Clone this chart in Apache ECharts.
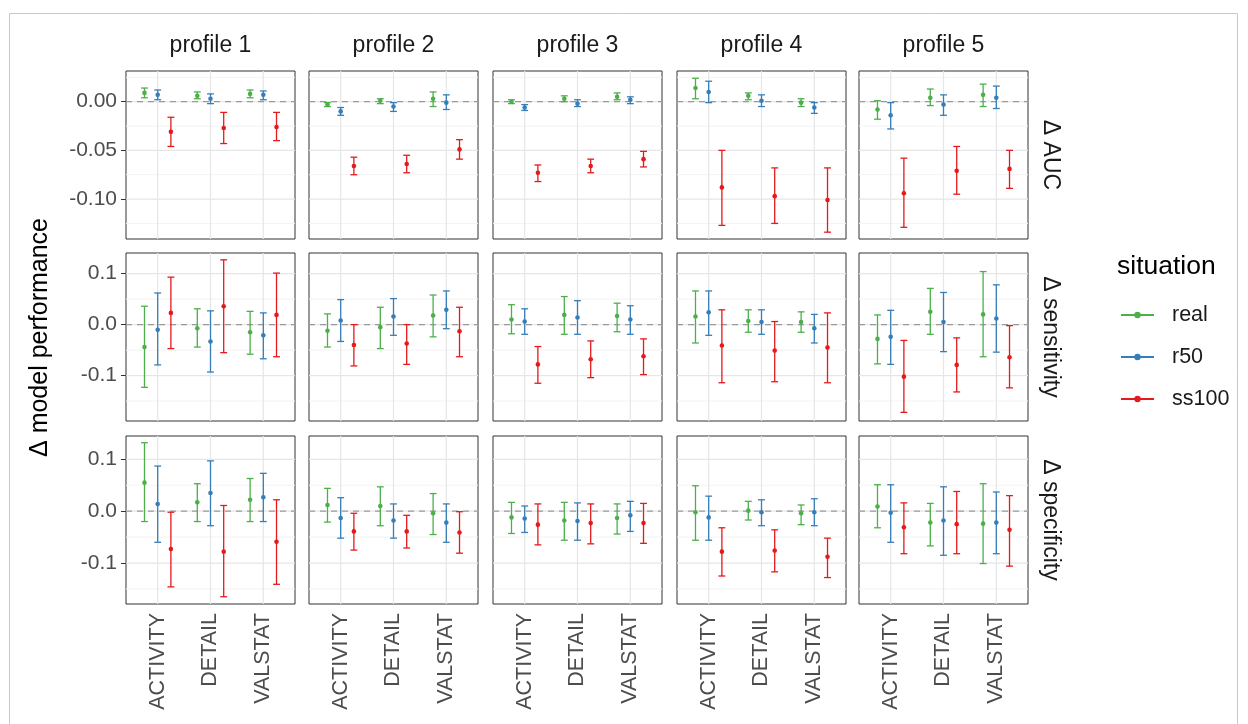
<!DOCTYPE html>
<html><head><meta charset="utf-8">
<script src="https://cdn.jsdelivr.net/npm/echarts@6/dist/echarts.min.js"></script>
<style>html,body{margin:0;padding:0;background:#fff}#c{width:1248px;height:724px}</style>
</head><body><div id="c"></div><script>
// ---------------- data ----------------
const categories = ['ACTIVITY', 'DETAIL', 'VALSTAT'];
const profiles = ['profile 1', 'profile 2', 'profile 3', 'profile 4', 'profile 5'];
const metrics = ['Δ AUC', 'Δ sensitivity', 'Δ specificity'];
const situations = ['real', 'r50', 'ss100'];

// each: profile 1..5 -> [ACTIVITY, DETAIL, VALSTAT] -> [mean, lower, upper]
const aucReal = [
  [[0.009, 0.004, 0.014], [0.006, 0.003, 0.010], [0.008, 0.004, 0.012]],
  [[-0.003, -0.005, -0.001], [0.001, -0.002, 0.003], [0.003, -0.005, 0.010]],
  [[0.000, -0.002, 0.002], [0.003, 0.000, 0.006], [0.005, 0.002, 0.009]],
  [[0.014, 0.003, 0.024], [0.006, 0.002, 0.009], [-0.001, -0.005, 0.003]],
  [[-0.008, -0.018, 0.001], [0.004, -0.004, 0.013], [0.007, -0.005, 0.018]]
];
const aucR50 = [
  [[0.007, 0.002, 0.012], [0.003, -0.002, 0.008], [0.007, 0.002, 0.011]],
  [[-0.010, -0.014, -0.006], [-0.005, -0.010, -0.001], [-0.001, -0.008, 0.007]],
  [[-0.006, -0.009, -0.003], [-0.002, -0.005, 0.002], [0.002, -0.002, 0.005]],
  [[0.010, -0.001, 0.021], [0.001, -0.005, 0.007], [-0.006, -0.012, -0.001]],
  [[-0.014, -0.028, -0.001], [-0.003, -0.014, 0.007], [0.004, -0.007, 0.016]]
];
const aucSs100 = [
  [[-0.031, -0.046, -0.016], [-0.027, -0.043, -0.011], [-0.026, -0.040, -0.011]],
  [[-0.066, -0.075, -0.057], [-0.064, -0.073, -0.055], [-0.049, -0.059, -0.039]],
  [[-0.073, -0.082, -0.065], [-0.066, -0.073, -0.059], [-0.059, -0.067, -0.051]],
  [[-0.088, -0.127, -0.050], [-0.097, -0.125, -0.068], [-0.101, -0.134, -0.068]],
  [[-0.094, -0.129, -0.058], [-0.071, -0.095, -0.046], [-0.069, -0.089, -0.050]]
];
const sensReal = [
  [[-0.044, -0.123, 0.036], [-0.007, -0.044, 0.031], [-0.015, -0.058, 0.026]],
  [[-0.012, -0.044, 0.021], [-0.005, -0.047, 0.034], [0.018, -0.024, 0.058]],
  [[0.010, -0.018, 0.039], [0.019, -0.019, 0.055], [0.017, -0.014, 0.042]],
  [[0.016, -0.036, 0.066], [0.007, -0.015, 0.029], [0.005, -0.015, 0.025]],
  [[-0.028, -0.077, 0.019], [0.025, -0.019, 0.071], [0.020, -0.063, 0.104]]
];
const sensR50 = [
  [[-0.010, -0.079, 0.062], [-0.033, -0.093, 0.027], [-0.021, -0.067, 0.023]],
  [[0.008, -0.033, 0.049], [0.016, -0.021, 0.051], [0.029, -0.008, 0.066]],
  [[0.006, -0.019, 0.031], [0.014, -0.019, 0.047], [0.010, -0.019, 0.037]],
  [[0.024, -0.021, 0.066], [0.005, -0.019, 0.029], [-0.007, -0.036, 0.020]],
  [[-0.024, -0.078, 0.028], [0.005, -0.053, 0.063], [0.012, -0.054, 0.078]]
];
const sensSs100 = [
  [[0.023, -0.047, 0.093], [0.036, -0.055, 0.127], [0.019, -0.063, 0.101]],
  [[-0.040, -0.081, 0.000], [-0.037, -0.078, 0.000], [-0.013, -0.063, 0.034]],
  [[-0.078, -0.115, -0.043], [-0.068, -0.104, -0.032], [-0.062, -0.098, -0.028]],
  [[-0.041, -0.114, 0.029], [-0.051, -0.112, 0.006], [-0.045, -0.114, 0.023]],
  [[-0.102, -0.172, -0.031], [-0.079, -0.132, -0.026], [-0.064, -0.124, -0.002]]
];
const specReal = [
  [[0.055, -0.020, 0.132], [0.017, -0.020, 0.053], [0.022, -0.020, 0.063]],
  [[0.012, -0.021, 0.044], [0.010, -0.028, 0.047], [-0.004, -0.045, 0.034]],
  [[-0.012, -0.043, 0.017], [-0.018, -0.056, 0.017], [-0.013, -0.044, 0.014]],
  [[-0.002, -0.056, 0.049], [0.001, -0.017, 0.019], [-0.004, -0.026, 0.012]],
  [[0.009, -0.032, 0.051], [-0.022, -0.067, 0.015], [-0.024, -0.101, 0.053]]
];
const specR50 = [
  [[0.014, -0.060, 0.087], [0.035, -0.028, 0.097], [0.027, -0.020, 0.073]],
  [[-0.013, -0.052, 0.026], [-0.018, -0.052, 0.014], [-0.022, -0.060, 0.014]],
  [[-0.014, -0.041, 0.010], [-0.019, -0.056, 0.016], [-0.008, -0.039, 0.019]],
  [[-0.012, -0.056, 0.029], [-0.002, -0.028, 0.022], [-0.002, -0.028, 0.024]],
  [[-0.003, -0.060, 0.051], [-0.018, -0.085, 0.047], [-0.022, -0.082, 0.037]]
];
const specSs100 = [
  [[-0.073, -0.146, -0.002], [-0.078, -0.165, 0.011], [-0.059, -0.141, 0.022]],
  [[-0.039, -0.075, -0.004], [-0.039, -0.071, -0.008], [-0.041, -0.081, -0.001]],
  [[-0.026, -0.065, 0.014], [-0.023, -0.063, 0.014], [-0.023, -0.062, 0.015]],
  [[-0.078, -0.125, -0.032], [-0.076, -0.117, -0.036], [-0.088, -0.128, -0.052]],
  [[-0.031, -0.082, 0.016], [-0.025, -0.082, 0.038], [-0.036, -0.106, 0.030]]
];

// axis limits and ticks per metric row
const yLimits = [[-0.141, 0.0315], [-0.189, 0.1404], [-0.179, 0.145]];
const yTicks = [[-0.10, -0.05, 0.00], [-0.1, 0.0, 0.1], [-0.1, 0.0, 0.1]];
const yMinorTicks = [[-0.125, -0.075, -0.025, 0.025], [-0.15, -0.05, 0.05], [-0.15, -0.05, 0.05]];
const yDecimals = [2, 1, 1];

// ---------------- layout / style ----------------
const metricData = [[aucReal, aucR50, aucSs100], [sensReal, sensR50, sensSs100], [specReal, specR50, specSs100]];
const colors = ['#4DAF4A', '#377EB8', '#E41A1C'];
const dodge = [-0.25, 0, 0.25];
const FONT = 'Liberation Sans, Arial, Helvetica, sans-serif';
const lefts = [126, 309, 493, 677, 859];
const tops = [71, 253, 436];
const W = 169, H = 168;

const grids = [], xAxes = [], yAxes = [], series = [], graphics = [];

// legend helper series (empty lines with point)
situations.forEach((s, k) => {
  series.push({
    type: 'line', name: s, data: [], xAxisIndex: 0, yAxisIndex: 0,
    color: colors[k], symbol: 'circle', symbolSize: 4, showSymbol: true,
    lineStyle: { width: 1.2, color: colors[k] }, itemStyle: { color: colors[k] }
  });
});

for (let r = 0; r < 3; r++) {
  for (let c = 0; c < 5; c++) {
    const gi = r * 5 + c;
    grids.push({ left: lefts[c], top: tops[r], width: W, height: H, show: true,
      borderColor: '#333333', borderWidth: 1, backgroundColor: '#ffffff' });
    xAxes.push({
      gridIndex: gi, type: 'value', min: 0.4, max: 3.6,
      axisLine: { show: false }, splitLine: { show: false },
      axisTick: { show: r === 2, customValues: [1, 2, 3], length: 5, lineStyle: { color: '#333333' } },
      axisLabel: { show: r === 2, customValues: [1, 2, 3], rotate: 90, margin: 9,
        formatter: v => categories[Math.round(v) - 1] || '',
        fontSize: 21.5, color: '#4D4D4D', fontFamily: FONT }
    });
    yAxes.push({
      gridIndex: gi, type: 'value', min: yLimits[r][0], max: yLimits[r][1],
      axisLine: { show: false }, splitLine: { show: false },
      axisTick: { show: c === 0, customValues: yTicks[r], length: 5, lineStyle: { color: '#333333' } },
      axisLabel: { show: c === 0, customValues: yTicks[r], margin: 9,
        formatter: v => Number(v).toFixed(yDecimals[r]).replace(/^-0\.0+$/, m => m.slice(1)),
        fontSize: 21, color: '#4D4D4D', fontFamily: FONT }
    });
    // background: grid lines + dashed zero line
    const rr = r;
    series.push({
      type: 'custom', xAxisIndex: gi, yAxisIndex: gi, z: 1, silent: true,
      data: [[0]],
      renderItem: function (params, api) {
        const ch = [];
        const lo = yLimits[rr][0], hi = yLimits[rr][1];
        yMinorTicks[rr].forEach(v => {
          const a = api.coord([0.4, v]), b = api.coord([3.6, v]);
          ch.push({ type: 'line', shape: { x1: a[0], y1: a[1], x2: b[0], y2: b[1] }, style: { stroke: '#F3F3F3', lineWidth: 1 } });
        });
        yTicks[rr].forEach(v => {
          const a = api.coord([0.4, v]), b = api.coord([3.6, v]);
          ch.push({ type: 'line', shape: { x1: a[0], y1: a[1], x2: b[0], y2: b[1] }, style: { stroke: '#E6E6E6', lineWidth: 1.2 } });
        });
        [1, 2, 3].forEach(v => {
          const a = api.coord([v, lo]), b = api.coord([v, hi]);
          ch.push({ type: 'line', shape: { x1: a[0], y1: a[1], x2: b[0], y2: b[1] }, style: { stroke: '#E6E6E6', lineWidth: 1.2 } });
        });
        const z0 = api.coord([0.4, 0]), z1 = api.coord([3.6, 0]);
        ch.push({ type: 'line', shape: { x1: z0[0], y1: z0[1], x2: z1[0], y2: z1[1] },
          style: { stroke: '#9A9A9A', lineWidth: 1.2, lineDash: [6, 5] } });
        return { type: 'group', children: ch };
      }
    });
    // error bars for each situation
    situations.forEach((s, k) => {
      const d = metricData[r][k][c].map((t, i) => [i + 1 + dodge[k], t[0], t[1], t[2]]);
      series.push({
        type: 'custom', name: s, xAxisIndex: gi, yAxisIndex: gi, z: 3,
        itemStyle: { color: colors[k] }, color: colors[k],
        data: d,
        renderItem: function (params, api) {
          const x = api.value(0), m = api.value(1), lo = api.value(2), hi = api.value(3);
          const pL = api.coord([x, lo]), pH = api.coord([x, hi]), pM = api.coord([x, m]);
          const hw = api.size([0.065, 0])[0];
          const col = api.visual('color');
          const st = { stroke: col, lineWidth: 1.3 };
          return { type: 'group', children: [
            { type: 'line', shape: { x1: pL[0], y1: pL[1], x2: pH[0], y2: pH[1] }, style: st },
            { type: 'line', shape: { x1: pL[0] - hw, y1: pL[1], x2: pL[0] + hw, y2: pL[1] }, style: st },
            { type: 'line', shape: { x1: pH[0] - hw, y1: pH[1], x2: pH[0] + hw, y2: pH[1] }, style: st },
            { type: 'circle', shape: { cx: pM[0], cy: pM[1], r: 2.3 }, style: { fill: col } }
          ] };
        }
      });
    });
  }
}

// strip labels
profiles.forEach((p, c) => {
  graphics.push({ type: 'text', x: lefts[c] + W / 2, y: 46,
    style: { text: p, fontSize: 23, fontFamily: FONT, fill: '#1A1A1A', align: 'center', verticalAlign: 'middle' } });
});
metrics.forEach((m, r) => {
  graphics.push({ type: 'text', x: 1050, y: tops[r] + H / 2, rotation: -Math.PI / 2,
    style: { text: m, fontSize: 23, fontFamily: FONT, fill: '#1A1A1A', align: 'center', verticalAlign: 'middle' } });
});
// axis title
graphics.push({ type: 'text', x: 40, y: (tops[0] + tops[2] + H) / 2, rotation: Math.PI / 2,
  style: { text: 'Δ model performance', fontSize: 25, fontFamily: FONT, fill: '#000', align: 'center', verticalAlign: 'middle' } });
// legend title
graphics.push({ type: 'text', x: 1117, y: 267,
  style: { text: 'situation', fontSize: 26.5, fontFamily: FONT, fill: '#000', align: 'left', verticalAlign: 'middle' } });
// outer frame
graphics.push({ type: 'rect', shape: { x: 9.5, y: 13.5, width: 1228, height: 720 }, silent: true,
  style: { fill: 'none', stroke: '#C8C8C8', lineWidth: 1 } });

const chart = echarts.init(document.getElementById('c'), null, { renderer: 'canvas' });
chart.setOption({
  animation: false,
  backgroundColor: '#ffffff',
  grid: grids, xAxis: xAxes, yAxis: yAxes, series: series,
  legend: {
    orient: 'vertical', left: 1120, top: 304, padding: 0, data: series.slice(0, 3).map(s => s.name),
    itemWidth: 33, itemHeight: 8, itemGap: 20,
    textStyle: { fontSize: 21.5, color: '#1A1A1A', fontFamily: FONT, lineHeight: 22, padding: [0, 0, 0, 13] }
  },
  graphic: graphics
});
</script></body></html>
